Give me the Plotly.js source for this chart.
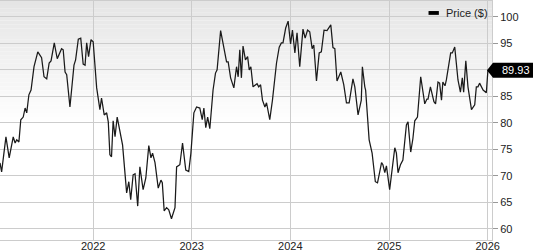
<!DOCTYPE html>
<html>
<head>
<meta charset="utf-8">
<script src="https://cdn.plot.ly/plotly-3.0.1.min.js"></script>
<style>
html,body{margin:0;padding:0;background:#fff;}
#chart{width:533px;height:250px;}
</style>
</head>
<body>
<div id="chart"></div>
<script>
// Weekly closing price ($)
const dates = [
"2021-01-21","2021-01-27","2021-02-12","2021-02-24","2021-03-11","2021-03-18","2021-03-24","2021-04-01","2021-04-08","2021-04-17",
"2021-04-24","2021-04-30","2021-05-08","2021-05-16","2021-05-27","2021-06-10","2021-06-24","2021-07-03","2021-07-13","2021-07-22",
"2021-07-29","2021-08-10","2021-08-21","2021-09-06","2021-09-12","2021-09-19","2021-09-25","2021-10-07","2021-10-22","2021-10-28",
"2021-11-07","2021-11-16","2021-11-25","2021-12-02","2021-12-08","2021-12-15","2021-12-24","2022-01-01","2022-01-14","2022-01-26",
"2022-02-01","2022-02-11","2022-02-20","2022-02-26","2022-03-04","2022-03-10","2022-03-16","2022-03-23","2022-03-31","2022-04-20",
"2022-05-05","2022-05-13","2022-05-20","2022-05-29","2022-06-05","2022-06-15","2022-06-23","2022-07-05","2022-07-15","2022-07-26",
"2022-08-03","2022-08-09","2022-08-18","2022-08-30","2022-09-09","2022-09-14","2022-09-21","2022-09-30","2022-10-08","2022-10-18",
"2022-10-31","2022-11-06","2022-11-18","2022-11-28","2022-12-10","2022-12-21","2022-12-29","2023-01-09","2023-01-19","2023-01-31",
"2023-02-09","2023-02-15","2023-02-22","2023-03-01","2023-03-09","2023-03-21","2023-03-30","2023-04-05","2023-04-18","2023-04-30",
"2023-05-10","2023-05-16","2023-05-25","2023-06-06","2023-06-16","2023-06-22","2023-06-28","2023-07-04","2023-07-10","2023-07-19",
"2023-07-27","2023-08-02","2023-08-08","2023-08-16","2023-08-31","2023-09-06","2023-09-13","2023-09-20","2023-09-29","2023-10-05",
"2023-10-17","2023-10-27","2023-11-11","2023-11-21","2023-11-29","2023-12-05","2023-12-15","2023-12-24","2024-01-02","2024-01-09",
"2024-01-18","2024-01-26","2024-02-05","2024-02-17","2024-02-25","2024-03-05","2024-03-13","2024-03-22","2024-03-28","2024-04-07",
"2024-04-17","2024-04-25","2024-05-05","2024-05-16","2024-05-30","2024-06-07","2024-06-14","2024-06-22","2024-07-06","2024-07-17",
"2024-07-27","2024-08-06","2024-08-20","2024-08-27","2024-09-08","2024-09-20","2024-09-24","2024-10-03","2024-10-06","2024-10-19",
"2024-10-30","2024-11-11","2024-11-19","2024-12-04","2024-12-09","2024-12-16","2024-12-22","2025-01-03","2025-01-13","2025-01-22",
"2025-01-28","2025-02-03","2025-02-12","2025-02-21","2025-03-06","2025-03-12","2025-03-22","2025-03-30","2025-04-06","2025-04-16",
"2025-04-28","2025-05-13","2025-05-21","2025-05-25","2025-06-03","2025-06-16","2025-06-22","2025-07-01","2025-07-07","2025-07-14",
"2025-07-19","2025-07-27","2025-08-01","2025-08-11","2025-08-17","2025-08-23","2025-09-01","2025-09-13","2025-09-22","2025-09-29",
"2025-10-04","2025-10-12","2025-10-20","2025-11-02","2025-11-08","2025-11-14","2025-11-20","2025-11-26","2025-12-02","2025-12-15",
"2025-12-27","2026-01-02","2026-01-08","2026-01-15"
];
const prices = [
72.45,70.75,77.36,73.4,77.36,76.2,76.8,76.4,80.6,81.1,
82.8,81.9,85.3,86.2,90.6,93.4,92.3,88.7,88.3,91.3,
91.7,95.1,92.1,94.0,93.8,89.6,89.1,83.0,90.9,91.9,
95.8,96.0,91.1,90.9,95.1,92.5,95.7,95.3,86.6,82.5,
84.7,81.5,81.9,80.2,74.0,73.6,80.4,77.4,81.1,75.8,
66.8,68.9,65.5,70.2,70.4,64.3,71.7,67.4,69.6,75.7,
73.4,74.3,72.5,67.7,69.2,68.7,63.4,64.0,63.6,61.9,
64.0,71.7,72.1,76.2,71.1,70.8,74.3,81.9,83.0,82.8,
80.6,82.8,79.1,81.1,78.9,86.2,89.4,90.0,97.4,93.8,
91.5,91.5,88.5,86.6,90.6,88.7,93.8,88.5,94.5,91.9,
92.5,90.0,90.6,86.8,87.4,86.8,87.2,84.3,83.0,83.8,
80.6,84.3,91.3,94.3,95.1,95.1,97.9,99.2,94.9,97.5,
93.2,97.0,90.6,97.7,96.0,97.5,97.2,94.0,94.7,87.9,
93.2,93.4,97.5,97.4,98.5,94.2,94.0,87.9,89.6,87.2,
83.8,83.8,88.3,86.8,81.5,84.3,90.6,86.8,86.2,76.8,
74.3,68.9,68.7,72.5,72.1,70.6,71.9,67.4,71.1,75.3,
74.3,70.6,72.1,73.0,79.6,80.2,74.5,77.0,80.4,81.1,
88.7,83.6,84.5,84.5,86.8,84.0,83.6,87.7,87.5,84.3,
87.7,87.0,88.1,91.5,93.2,93.2,94.3,88.1,85.8,88.5,
85.8,91.7,86.8,82.5,83.0,83.4,86.8,86.8,87.5,86.2,
85.7,90.0,89.6,89.93
];
const seriesName = "Price ($)";
const yTicks = [60,65,70,75,80,85,90,95,100];
const xRange = ["2021-01-21","2026-01-17"];
const yRange = [57.9,103.0];

const lastVal = prices[prices.length-1];
// tick label hidden under the last-value flag
const yTickText = yTicks.map(v => Math.abs(v - lastVal) < 2.5 ? '' : String(v));

// background gradient bands (top grey fading to white)
const shapes = [];
const nb = 32, gradTop = 1.0, gradBottom = 0.48;
for (let i = 0; i < nb; i++) {
  const y1 = gradTop - (gradTop - gradBottom) * i / nb;
  const y0 = gradTop - (gradTop - gradBottom) * (i + 1) / nb;
  const c = Math.round(229 + (255 - 229) * (i + 0.5) / nb);
  shapes.push({type:'rect', xref:'paper', yref:'paper', x0:0, x1:1, y0:y0, y1:y1,
    fillcolor:`rgb(${c},${c},${c})`, line:{width:0}, layer:'below'});
}
// last value flag
shapes.push({type:'path', xref:'paper', yref:'y', xsizemode:'pixel', ysizemode:'pixel',
  xanchor:1, yanchor:lastVal, layer:'above',
  path:'M -5,0 L 1,7.5 L 41,7.5 L 41,-7.5 L 1,-7.5 Z',
  fillcolor:'#000', line:{width:0}});
// legend swatch
shapes.push({type:'rect', xref:'paper', yref:'paper', x0:0.871, x1:0.892, y0:0.942, y1:0.958,
  fillcolor:'#000', line:{width:0}, layer:'above'});

const trace = {
  x: dates, y: prices, type:'scatter', mode:'lines', name: seriesName,
  line:{color:'#1a1a1a', width:1.25}, hoverinfo:'skip', showlegend:false
};

const layout = {
  width:533, height:250,
  margin:{l:0, r:40.5, t:1, b:10, pad:0},
  paper_bgcolor:'#ffffff', plot_bgcolor:'rgba(0,0,0,0)',
  font:{family:'Liberation Sans, Arial, sans-serif', size:11, color:'#222'},
  showlegend:false,
  xaxis:{type:'date', range:xRange, dtick:'M12', tick0:'2022-01-01', tickformat:'%Y',
    showgrid:true, gridcolor:'#cccccc', gridwidth:1,
    showline:true, linecolor:'#cccccc', linewidth:1, mirror:true,
    ticks:'', ticklen:0, ticklabelstandoff:-4,
    tickfont:{size:11, color:'#222'}, zeroline:false, fixedrange:true},
  yaxis:{side:'right', range:yRange, tickvals:yTicks, ticktext:yTickText,
    showgrid:true, gridcolor:'#cccccc', gridwidth:1,
    showline:true, linecolor:'#cccccc', linewidth:1, mirror:true,
    ticks:'outside', ticklen:5, tickcolor:'#999', tickwidth:1,
    tickfont:{size:11, color:'#222'}, zeroline:false, fixedrange:true},
  shapes: shapes,
  annotations:[
    {xref:'paper', yref:'y', x:1, y:lastVal, xanchor:'left', yanchor:'middle', xshift:8,
     text: lastVal.toFixed(2), showarrow:false, font:{size:11, color:'#ffffff'}},
    {xref:'paper', yref:'paper', x:0.902, y:0.951, xanchor:'left', yanchor:'middle',
     text: seriesName, showarrow:false, font:{size:11, color:'#222'}}
  ]
};

Plotly.newPlot('chart', [trace], layout, {staticPlot:true, displayModeBar:false});
</script>
</body>
</html>
